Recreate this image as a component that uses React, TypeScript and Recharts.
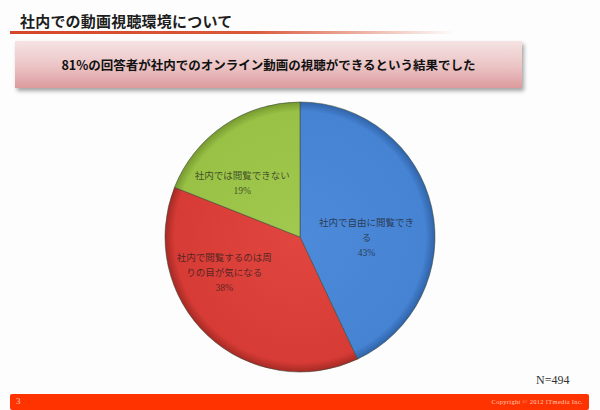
import React from 'react';
import { PieChart, Pie, Cell } from 'recharts';

const categories = ['社内で自由に閲覧できる', '社内で閲覧するのは周りの目が気になる', '社内では閲覧できない'];
const shares = [43, 38, 19];
const sliceColors = [
  { inner: '#4d8ad9', outer: '#4683d3', edge: '#2f63a8' },
  { inner: '#e0463f', outer: '#d73b35', edge: '#a52a25' },
  { inner: '#a2c94f', outer: '#98c145', edge: '#76992f' },
];
const titleText = '社内での動画視聴環境について';
const bannerText = '81%の回答者が社内でのオンライン動画の視聴ができるという結果でした';
const sampleText = 'N=494';
const pageNo = '3';
const copyright = 'Copyright © 2012 ITmedia Inc.';

const data = categories.map((name, i) => ({ name, value: shares[i] }));

// Excel puts the labels where they fit best, so nudge them off the plain polar spot
const labelNudge = [
  { dx: -6, dy: 17 },
  { dx: -25, dy: -18 },
  { dx: -16, dy: 8 },
];

const RAD = Math.PI / 180;
const labelFont = '"Liberation Serif", "Noto Sans CJK JP", serif';

function wrap(text: string, size: number) {
  const out: string[] = [];
  for (let i = 0; i < text.length; i += size) out.push(text.slice(i, i + size));
  return out;
}

function renderLabel(props: any) {
  const { cx, cy, midAngle, outerRadius, index, name, value } = props;
  const r = outerRadius * 0.55;
  const x = cx + r * Math.cos(-midAngle * RAD) + labelNudge[index].dx;
  const y = cy + r * Math.sin(-midAngle * RAD) + labelNudge[index].dy;
  const lines = [...wrap(name, 10), `${value}%`];
  const lh = 15;
  const top = y - ((lines.length - 1) * lh) / 2;
  return (
    <text
      key={`lbl-${index}`}
      x={x}
      y={top}
      textAnchor="middle"
      dominantBaseline="central"
      fontSize={9.5}
      fill="#1a1a1a"
      fillOpacity={0.72}
      fontFamily={labelFont}
    >
      {lines.map((l, i) => (
        <tspan key={i} x={x} y={top + i * lh}>
          {l}
        </tspan>
      ))}
    </text>
  );
}

export default function App() {
  return (
    <div
      style={{
        position: 'fixed',
        left: 0,
        top: 0,
        width: 600,
        height: 410,
        background: '#fdfdfd',
        overflow: 'hidden',
      }}
    >
      <div
        style={{
          position: 'absolute',
          left: 20,
          top: 11,
          fontSize: 15,
          fontWeight: 700,
          color: '#1e1e1e',
          fontFamily: '"Noto Sans CJK JP", sans-serif',
          lineHeight: '20px',
          letterSpacing: 0.2,
        }}
      >
        {titleText}
      </div>
      <div
        style={{
          position: 'absolute',
          left: 10,
          top: 31,
          width: 445,
          height: 3,
          background: 'linear-gradient(to right, #d5462a 0%, #da5a3c 55%, rgba(230,140,110,0) 100%)',
        }}
      />
      <div
        style={{
          position: 'absolute',
          left: 15,
          top: 41,
          width: 507,
          height: 47,
          background: 'linear-gradient(to bottom, #f6e3e3 0%, #ebc3c4 55%, #dc9b9d 100%)',
          boxShadow: '2px 3px 4px rgba(0,0,0,0.35)',
          display: 'flex',
          alignItems: 'center',
          justifyContent: 'center',
          fontSize: 12.5,
          fontWeight: 700,
          color: '#111',
          fontFamily: '"Noto Sans CJK JP", sans-serif',
        }}
      >
        {bannerText}
      </div>

      <div style={{ position: 'absolute', left: 0, top: 0 }}>
        <PieChart width={600} height={410} margin={{ top: 0, right: 0, bottom: 0, left: 0 }}>
          <defs>
            {sliceColors.map((c, i) => (
              <radialGradient key={i} id={`slice-${i}`} cx={300} cy={237} r={135} gradientUnits="userSpaceOnUse">
                <stop offset="0%" stopColor={c.inner} />
                <stop offset="93%" stopColor={c.outer} />
                <stop offset="100%" stopColor={c.edge} />
              </radialGradient>
            ))}
          </defs>
          <Pie
            data={data}
            dataKey="value"
            nameKey="name"
            cx={300}
            cy={237}
            outerRadius={135}
            startAngle={90}
            endAngle={-270}
            label={renderLabel}
            labelLine={false}
            isAnimationActive={false}
          >
            {data.map((entry, i) => (
              <Cell key={`cell-${i}`} fill={`url(#slice-${i})`} stroke="#3d4a3a" strokeOpacity={0.7} strokeWidth={0.8} />
            ))}
          </Pie>
        </PieChart>
      </div>

      <div
        style={{
          position: 'absolute',
          left: 536,
          top: 373,
          fontSize: 12,
          color: '#333',
          fontFamily: '"Liberation Serif", serif',
        }}
      >
        {sampleText}
      </div>
      <div
        style={{
          position: 'absolute',
          left: 10,
          top: 394,
          width: 579,
          height: 16,
          background: '#ff3300',
          borderRadius: 2,
        }}
      >
        <span
          style={{
            position: 'absolute',
            left: 6,
            top: 2,
            fontSize: 9,
            color: '#ffc9b5',
            fontFamily: '"Liberation Serif", serif',
          }}
        >
          {pageNo}
        </span>
        <span
          style={{
            position: 'absolute',
            right: 6,
            top: 4,
            fontSize: 6.5,
            color: '#ffc9b5',
            fontFamily: '"Liberation Serif", serif',
            letterSpacing: 0.3,
          }}
        >
          {copyright}
        </span>
      </div>
    </div>
  );
}
